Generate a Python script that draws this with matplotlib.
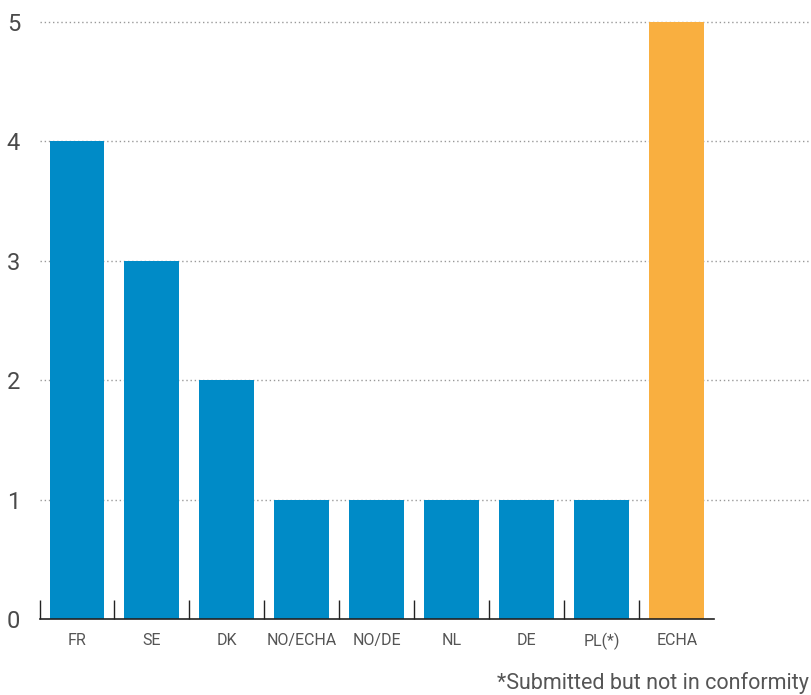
import matplotlib
matplotlib.use('Agg')
import matplotlib.pyplot as plt

plt.rcParams['font.family'] = ['Roboto', 'DejaVu Sans']

# data
countries = ['FR', 'SE', 'DK', 'NO/ECHA', 'NO/DE', 'NL', 'DE', 'PL(*)', 'ECHA']
counts = [4, 3, 2, 1, 1, 1, 1, 1, 5]
colors = ['#008bc7'] * 8 + ['#f9af40']
note = '*Submitted but not in conformity'

fig = plt.figure(figsize=(8.11, 6.95), dpi=100)
ax = fig.add_axes([39.5 / 811, 76 / 695, 1 - 39.5 / 811, 597 / 695])

x = list(range(len(countries)))
ax.bar(x, counts, width=0.733, color=colors, zorder=2)

ax.set_xlim(-0.5, 9.79)
ax.set_ylim(0, 5)
for s in ax.spines.values():
    s.set_visible(False)

# dotted grid
for yv in [1, 2, 3, 4, 5]:
    ax.axhline(yv, color='#999999', lw=1, ls=(0, (1, 2)), zorder=1, clip_on=False)

# base line + separator ticks only under the bars
ax.plot([-0.5, len(countries) - 0.5], [0, 0], color='#222222', lw=1.2, zorder=3, clip_on=False)
ax.set_xticks(x)
ax.set_xticklabels(countries)
ax.set_xticks([i - 0.5 for i in x], minor=True)
ax.tick_params(axis='x', which='major', length=0, pad=10, labelsize=11.5, labelcolor='#555555')
ax.tick_params(axis='x', which='minor', direction='in', length=14, width=1, color='#222222')

ax.set_yticks([0, 1, 2, 3, 4, 5])
ax.tick_params(axis='y', length=0, pad=14, labelsize=17, labelcolor='#4a4a4a')

fig.text(809 / 811, 12 / 695, note, ha='right', va='center', fontsize=15.5, color='#555555')

fig.savefig('out.png', dpi=100)
